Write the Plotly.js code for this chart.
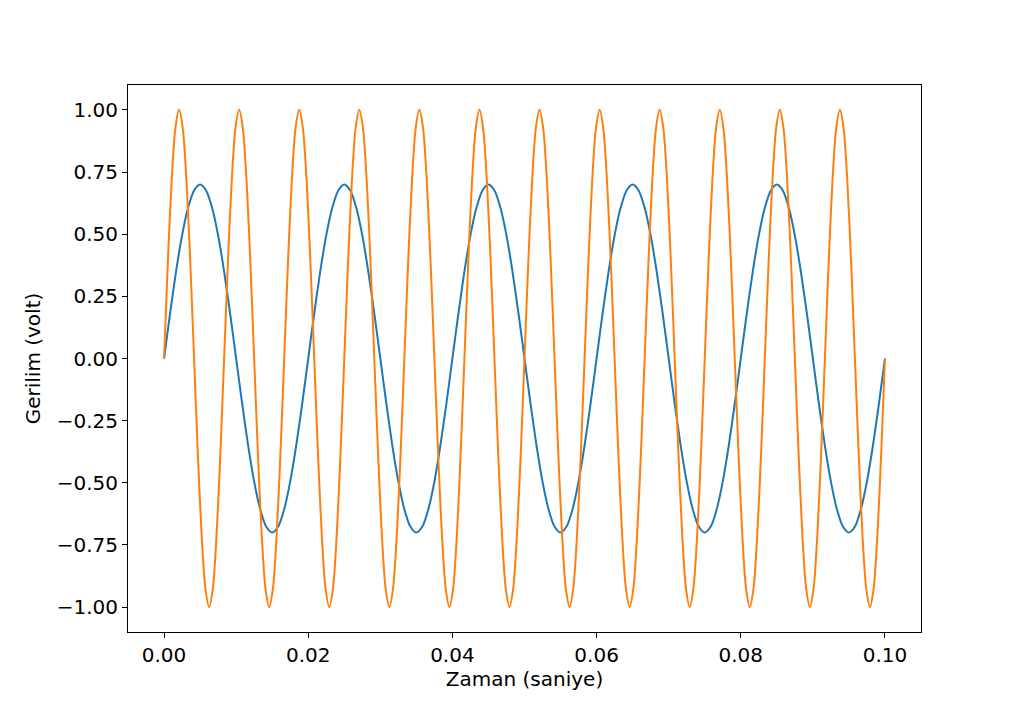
<!DOCTYPE html>
<html>
<head>
<meta charset="utf-8">
<script src="https://cdn.plot.ly/plotly-3.0.1.min.js"></script>
<style>
  html, body { margin: 0; padding: 0; background: #fff; }
  #chart { width: 1024px; height: 710px; }
</style>
</head>
<body>
<div id="chart"></div>
<script>
const blueStep = 0.02 / 24;      // 50 Hz wave, 24 samples per cycle
const orangeStep = 1 / 1920;     // 120 Hz wave, 16 samples per cycle

const blueVolt = [
  0, 0.181, 0.35, 0.495, 0.606, 0.676, 0.7, 0.676, 0.606, 0.495, 0.35, 0.181,
  0, -0.181, -0.35, -0.495, -0.606, -0.676, -0.7, -0.676, -0.606, -0.495, -0.35, -0.181,
  0, 0.181, 0.35, 0.495, 0.606, 0.676, 0.7, 0.676, 0.606, 0.495, 0.35, 0.181,
  0, -0.181, -0.35, -0.495, -0.606, -0.676, -0.7, -0.676, -0.606, -0.495, -0.35, -0.181,
  0, 0.181, 0.35, 0.495, 0.606, 0.676, 0.7, 0.676, 0.606, 0.495, 0.35, 0.181,
  0, -0.181, -0.35, -0.495, -0.606, -0.676, -0.7, -0.676, -0.606, -0.495, -0.35, -0.181,
  0, 0.181, 0.35, 0.495, 0.606, 0.676, 0.7, 0.676, 0.606, 0.495, 0.35, 0.181,
  0, -0.181, -0.35, -0.495, -0.606, -0.676, -0.7, -0.676, -0.606, -0.495, -0.35, -0.181,
  0, 0.181, 0.35, 0.495, 0.606, 0.676, 0.7, 0.676, 0.606, 0.495, 0.35, 0.181,
  0, -0.181, -0.35, -0.495, -0.606, -0.676, -0.7, -0.676, -0.606, -0.495, -0.35, -0.181,
  0
];

const orangeVolt = [
  0, 0.383, 0.707, 0.924, 1, 0.924, 0.707, 0.383, 0, -0.383, -0.707, -0.924, -1, -0.924, -0.707, -0.383,
  0, 0.383, 0.707, 0.924, 1, 0.924, 0.707, 0.383, 0, -0.383, -0.707, -0.924, -1, -0.924, -0.707, -0.383,
  0, 0.383, 0.707, 0.924, 1, 0.924, 0.707, 0.383, 0, -0.383, -0.707, -0.924, -1, -0.924, -0.707, -0.383,
  0, 0.383, 0.707, 0.924, 1, 0.924, 0.707, 0.383, 0, -0.383, -0.707, -0.924, -1, -0.924, -0.707, -0.383,
  0, 0.383, 0.707, 0.924, 1, 0.924, 0.707, 0.383, 0, -0.383, -0.707, -0.924, -1, -0.924, -0.707, -0.383,
  0, 0.383, 0.707, 0.924, 1, 0.924, 0.707, 0.383, 0, -0.383, -0.707, -0.924, -1, -0.924, -0.707, -0.383,
  0, 0.383, 0.707, 0.924, 1, 0.924, 0.707, 0.383, 0, -0.383, -0.707, -0.924, -1, -0.924, -0.707, -0.383,
  0, 0.383, 0.707, 0.924, 1, 0.924, 0.707, 0.383, 0, -0.383, -0.707, -0.924, -1, -0.924, -0.707, -0.383,
  0, 0.383, 0.707, 0.924, 1, 0.924, 0.707, 0.383, 0, -0.383, -0.707, -0.924, -1, -0.924, -0.707, -0.383,
  0, 0.383, 0.707, 0.924, 1, 0.924, 0.707, 0.383, 0, -0.383, -0.707, -0.924, -1, -0.924, -0.707, -0.383,
  0, 0.383, 0.707, 0.924, 1, 0.924, 0.707, 0.383, 0, -0.383, -0.707, -0.924, -1, -0.924, -0.707, -0.383,
  0, 0.383, 0.707, 0.924, 1, 0.924, 0.707, 0.383, 0, -0.383, -0.707, -0.924, -1, -0.924, -0.707, -0.383,
  0
];

const xTicks = [0, 0.02, 0.04, 0.06, 0.08, 0.10];
const yTicks = [-1, -0.75, -0.5, -0.25, 0, 0.25, 0.5, 0.75, 1];

const FONT = { family: "DejaVu Sans, sans-serif", size: 20, color: "#000" };

const traces = [
  {
    type: "scatter", mode: "lines", name: "50 Hz",
    x0: 0, dx: blueStep, y: blueVolt,
    line: { color: "#1f77b4", width: 2, shape: "spline", smoothing: 0.8 },
  },
  {
    type: "scatter", mode: "lines", name: "120 Hz",
    x0: 0, dx: orangeStep, y: orangeVolt,
    line: { color: "#ff7f0e", width: 2, shape: "spline", smoothing: 0.8 },
  },
];

const axisBase = {
  showline: true, mirror: true, linecolor: "#000", linewidth: 1,
  showgrid: false, zeroline: false,
  ticks: "outside", ticklen: 5, tickwidth: 1, tickcolor: "#000",
  tickfont: FONT,
};

const layout = {
  width: 1024, height: 710,
  paper_bgcolor: "#fff", plot_bgcolor: "#fff",
  font: FONT,
  showlegend: false,
  margin: { l: 128, r: 103, t: 85, b: 78 },
  xaxis: { ...axisBase, range: [-0.005, 0.105], tickvals: xTicks, tickformat: ".2f",
    title: { text: "Zaman (saniye)", font: FONT, standoff: 4 } },
  yaxis: { ...axisBase, range: [-1.1, 1.1], tickvals: yTicks, tickformat: ".2f",
    title: { text: "Gerilim (volt)", font: FONT, standoff: 10 } },
};

Plotly.newPlot("chart", traces, layout, { staticPlot: true, displayModeBar: false });
</script>
</body>
</html>
